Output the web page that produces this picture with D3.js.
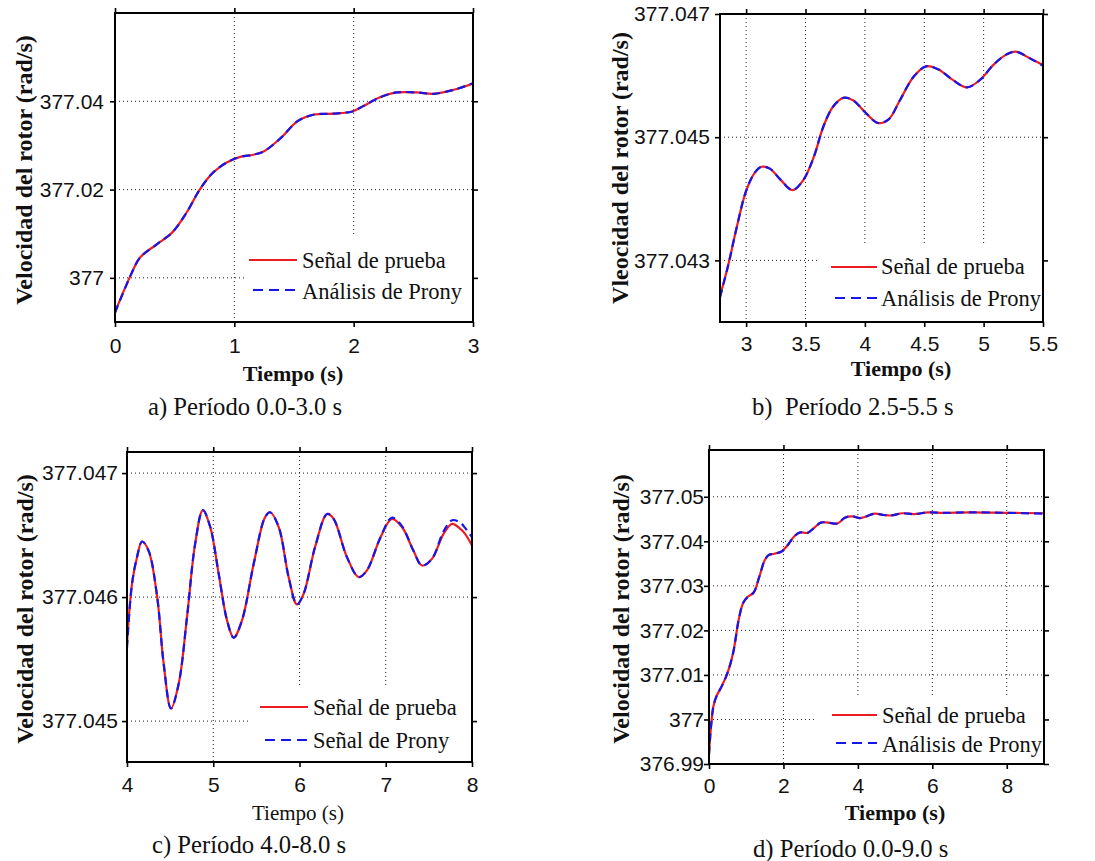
<!DOCTYPE html>
<html>
<head>
<meta charset="utf-8">
<script src="https://cdn.jsdelivr.net/npm/d3@7"></script>
<style>
  body { margin: 0; background: #fff; }
  svg { display: block; }
  .tick text { font-family: "Liberation Sans", Arial, sans-serif; font-size: 21px; fill: #111; }
  .cap { white-space: pre; }
</style>
</head>
<body>
<svg id="fig" width="1095" height="861"></svg>
<script>
// ---- Panel a: 0.0-3.0 s ----
const timeA  = [0, 0.13, 0.21, 0.35, 0.48, 0.60, 0.71, 0.82, 0.94, 1.05, 1.16, 1.25, 1.39, 1.53, 1.67, 1.83, 1.99, 2.08, 2.22, 2.36, 2.53, 2.67, 2.84, 3.0];
const testA  = [376.9922, 377.0005, 377.0046, 377.0076, 377.0103, 377.0148, 377.0200, 377.0238, 377.0262, 377.0274, 377.0279, 377.0287, 377.0317, 377.0355, 377.0370, 377.0372, 377.0377, 377.0389, 377.0409, 377.0420, 377.0420, 377.0417, 377.0426, 377.0440];
const pronyA = [376.9921, 377.0005, 377.0046, 377.0076, 377.0103, 377.0148, 377.0200, 377.0238, 377.0262, 377.0274, 377.0279, 377.0287, 377.0317, 377.0355, 377.0370, 377.0372, 377.0377, 377.0389, 377.0409, 377.0420, 377.0420, 377.0417, 377.0426, 377.0441];
const xTicksA = [0, 1, 2, 3];
const xLabelsA = ["0", "1", "2", "3"];
const yTicksA = [377, 377.02, 377.04];
const yLabelsA = ["377", "377.02", "377.04"];

// ---- Panel b: 2.5-5.5 s ----
const timeB  = [2.78, 2.85, 2.92, 3.0, 3.075, 3.13, 3.20, 3.285, 3.39, 3.48, 3.57, 3.65, 3.73, 3.82, 3.90, 4.0, 4.11, 4.20, 4.295, 4.41, 4.515, 4.62, 4.74, 4.86, 4.97, 5.08, 5.19, 5.27, 5.39, 5.50];
const testB  = [377.04242, 377.04293, 377.04353, 377.04413, 377.04443, 377.04452, 377.04449, 377.04432, 377.04414, 377.04430, 377.04468, 377.04517, 377.04549, 377.04564, 377.04560, 377.04541, 377.04523, 377.04529, 377.04560, 377.04598, 377.04615, 377.04610, 377.04593, 377.04581, 377.04593, 377.04617, 377.04634, 377.04639, 377.04628, 377.04617];
const pronyB = [377.04240, 377.04293, 377.04353, 377.04413, 377.04443, 377.04452, 377.04449, 377.04432, 377.04414, 377.04430, 377.04468, 377.04517, 377.04549, 377.04564, 377.04560, 377.04541, 377.04523, 377.04529, 377.04560, 377.04598, 377.04615, 377.04610, 377.04593, 377.04581, 377.04593, 377.04617, 377.04634, 377.04639, 377.04628, 377.04616];
const xTicksB = [3, 3.5, 4, 4.5, 5, 5.5];
const xLabelsB = ["3", "3.5", "4", "4.5", "5", "5.5"];
const yTicksB = [377.043, 377.045, 377.047];
const yLabelsB = ["377.043", "377.045", "377.047"];

// ---- Panel c: 4.0-8.0 s ----
const timeC  = [4.0, 4.058, 4.116, 4.174, 4.25, 4.35, 4.425, 4.51, 4.60, 4.696, 4.79, 4.88, 4.966, 5.063, 5.16, 5.237, 5.333, 5.469, 5.60, 5.66, 5.76, 5.874, 5.97, 6.048, 6.18, 6.32, 6.396, 6.55, 6.686, 6.78, 6.94, 7.07, 7.19, 7.32, 7.42, 7.536, 7.67, 7.77, 7.865, 7.92, 8.0];
const testC  = [377.045625, 377.046107, 377.046322, 377.046448, 377.046375, 377.046000, 377.045464, 377.045102, 377.045303, 377.045840, 377.046429, 377.046702, 377.046563, 377.046188, 377.045812, 377.045673, 377.045812, 377.046268, 377.046643, 377.046684, 377.046563, 377.046161, 377.045941, 377.046027, 377.046402, 377.046670, 377.046630, 377.046322, 377.046161, 377.046214, 377.046483, 377.046630, 377.046563, 377.046375, 377.046255, 377.046308, 377.046510, 377.046590, 377.046550, 377.046510, 377.046416];
const pronyC = [377.045590, 377.046107, 377.046322, 377.046448, 377.046375, 377.046000, 377.045464, 377.045102, 377.045303, 377.045840, 377.046429, 377.046702, 377.046563, 377.046188, 377.045812, 377.045673, 377.045812, 377.046268, 377.046643, 377.046684, 377.046563, 377.046161, 377.045941, 377.046027, 377.046402, 377.046670, 377.046630, 377.046322, 377.046161, 377.046214, 377.046483, 377.046640, 377.046570, 377.046375, 377.046255, 377.046308, 377.046530, 377.046620, 377.046600, 377.046558, 377.046483];
const xTicksC = [4, 5, 6, 7, 8];
const xLabelsC = ["4", "5", "6", "7", "8"];
const yTicksC = [377.045, 377.046, 377.047];
const yLabelsC = ["377.045", "377.046", "377.047"];

// ---- Panel d: 0.0-9.0 s ----
const timeD  = [0, 0.05, 0.12, 0.2, 0.35, 0.5, 0.65, 0.8, 0.92, 1.05, 1.2, 1.35, 1.5, 1.62, 1.75, 1.95, 2.1, 2.3, 2.45, 2.65, 2.85, 3.0, 3.2, 3.45, 3.65, 3.85, 4.05, 4.2, 4.45, 4.7, 4.9, 5.2, 5.5, 5.9, 6.3, 7.0, 8.0, 9.0];
const testD  = [376.9922, 376.9980, 377.0030, 377.0052, 377.0076, 377.0105, 377.0150, 377.0225, 377.0262, 377.0276, 377.0285, 377.0320, 377.0358, 377.0370, 377.0372, 377.0377, 377.0390, 377.0412, 377.0420, 377.0419, 377.0432, 377.0442, 377.0442, 377.0440, 377.0453, 377.0456, 377.0452, 377.0455, 377.0462, 377.0459, 377.0458, 377.0463, 377.0461, 377.0465, 377.0464, 377.0465, 377.0464, 377.0463];
const pronyD = [376.9921, 376.9980, 377.0030, 377.0052, 377.0076, 377.0105, 377.0150, 377.0225, 377.0262, 377.0276, 377.0285, 377.0320, 377.0358, 377.0370, 377.0372, 377.0377, 377.0390, 377.0412, 377.0420, 377.0419, 377.0432, 377.0442, 377.0442, 377.0440, 377.0453, 377.0456, 377.0452, 377.0455, 377.0462, 377.0459, 377.0458, 377.0463, 377.0461, 377.0465, 377.0464, 377.0465, 377.0464, 377.0462];
const xTicksD = [0, 2, 4, 6, 8];
const xLabelsD = ["0", "2", "4", "6", "8"];
const yTicksD = [376.99, 377, 377.01, 377.02, 377.03, 377.04, 377.05];
const yLabelsD = ["376.99", "377", "377.01", "377.02", "377.03", "377.04", "377.05"];

const RED = "#ec1c24";
const BLUE = "#1616e8";
const svg = d3.select("#fig");

const panels = [
  { id: "a", time: timeA, test: testA, prony: pronyA, xTicks: xTicksA, xLabels: xLabelsA, yTicks: yTicksA, yLabels: yLabelsA,
    box: [115, 473, 13, 322], xDomain: [0, 3], yDomain: [376.99, 377.06],
    yTitle: "Velocidad del rotor (rad/s)", yTitlePos: [32, 170],
    xTitle: "Tiempo (s)", xTitleBold: true, xTitlePos: [293, 381], xLabelBase: 353, yLabelGap: 11,
    caption: "a) Período 0.0-3.0 s", capPos: [148, 415],
    legend: { rect: [246, 237, 473, 322], red: [249, 297, 260], blue: [253, 297, 290], textX: 302, base1: 268, base2: 299, name2: "Análisis de Prony" } },
  { id: "b", time: timeB, test: testB, prony: pronyB, xTicks: xTicksB, xLabels: xLabelsB, yTicks: yTicksB, yLabels: yLabelsB,
    box: [720, 1043, 14, 322], xDomain: [2.78, 5.5], yDomain: [377.042, 377.047],
    yTitle: "Vleocidad del rotor (rad/s)", yTitlePos: [628, 168],
    xTitle: "Tiempo (s)", xTitleBold: true, xTitlePos: [901, 376], xLabelBase: 351, yLabelGap: 10,
    caption: "b)  Período 2.5-5.5 s", capPos: [752, 415],
    legend: { rect: [817, 243, 1043, 322], red: [831, 877, 267], blue: [835, 877, 298], textX: 881, base1: 274, base2: 306, name2: "Análisis de Prony" } },
  { id: "c", time: timeC, test: testC, prony: pronyC, xTicks: xTicksC, xLabels: xLabelsC, yTicks: yTicksC, yLabels: yLabelsC,
    box: [127, 472, 452, 762], xDomain: [4, 8], yDomain: [377.04467, 377.04717],
    yTitle: "Velocidad del rotor (rad/s)", yTitlePos: [33, 609],
    xTitle: "Tiempo (s)", xTitleBold: false, xTitlePos: [298, 820], xLabelBase: 792, yLabelGap: 9,
    caption: "c) Período 4.0-8.0 s", capPos: [152, 853],
    legend: { rect: [250, 685, 472, 762], red: [260, 308, 707], blue: [265, 308, 740], textX: 313, base1: 715, base2: 748, name2: "Señal de Prony" } },
  { id: "d", time: timeD, test: testD, prony: pronyD, xTicks: xTicksD, xLabels: xLabelsD, yTicks: yTicksD, yLabels: yLabelsD,
    box: [709, 1044, 450, 764], xDomain: [0, 9], yDomain: [376.99, 377.0605],
    yTitle: "Velocidad del rotor (rad/s)", yTitlePos: [629, 609],
    xTitle: "Tiempo (s)", xTitleBold: true, xTitlePos: [895, 820], xLabelBase: 793, yLabelGap: 5,
    caption: "d) Período 0.0-9.0 s", capPos: [753, 857],
    legend: { rect: [817, 697, 1044, 764], red: [832, 877, 715], blue: [836, 877, 743], textX: 882, base1: 723, base2: 752, name2: "Análisis de Prony" } }
];

function drawPanel(p) {
  const [L, R, T, B] = p.box;
  const x = d3.scaleLinear().domain(p.xDomain).range([L, R]);
  const y = d3.scaleLinear().domain(p.yDomain).range([B, T]);
  const g = svg.append("g").attr("class", "panel-" + p.id);

  // dotted grid, skipping lines that sit on the frame
  const grid = g.append("g").attr("stroke", "#222").attr("stroke-width", 1).attr("stroke-dasharray", "1,3");
  p.xTicks.filter(v => Math.abs(x(v) - L) > 2 && Math.abs(x(v) - R) > 2).forEach(v => {
    grid.append("line").attr("x1", x(v)).attr("x2", x(v)).attr("y1", T).attr("y2", B);
  });
  p.yTicks.filter(v => Math.abs(y(v) - T) > 2 && Math.abs(y(v) - B) > 2).forEach(v => {
    grid.append("line").attr("x1", L).attr("x2", R).attr("y1", y(v)).attr("y2", y(v));
  });

  // signals, clipped to the axes box
  const clipId = "clip-" + p.id;
  g.append("clipPath").attr("id", clipId).append("rect")
    .attr("x", L).attr("y", T).attr("width", R - L).attr("height", B - T);
  const line = d3.line().x(d => x(d[0])).y(d => y(d[1])).curve(d3.curveCatmullRom.alpha(0.5));
  const curves = g.append("g").attr("clip-path", `url(#${clipId})`).attr("fill", "none");
  curves.append("path").datum(p.time.map((t, i) => [t, p.test[i]]))
    .attr("d", line).attr("stroke", RED).attr("stroke-width", 2.2);
  curves.append("path").datum(p.time.map((t, i) => [t, p.prony[i]]))
    .attr("d", line).attr("stroke", BLUE).attr("stroke-width", 2.2).attr("stroke-dasharray", "8,5");

  // legend on a white patch
  const lg = p.legend;
  const leg = g.append("g");
  leg.append("rect").attr("x", lg.rect[0]).attr("y", lg.rect[1])
    .attr("width", lg.rect[2] - lg.rect[0]).attr("height", lg.rect[3] - lg.rect[1]).attr("fill", "#fff");
  leg.append("line").attr("x1", lg.red[0]).attr("x2", lg.red[1]).attr("y1", lg.red[2]).attr("y2", lg.red[2])
    .attr("stroke", RED).attr("stroke-width", 2.2);
  leg.append("line").attr("x1", lg.blue[0]).attr("x2", lg.blue[1]).attr("y1", lg.blue[2]).attr("y2", lg.blue[2])
    .attr("stroke", BLUE).attr("stroke-width", 2.2).attr("stroke-dasharray", "10,6");
  const legFont = { "font-family": "'Liberation Serif', 'Times New Roman', serif", "font-size": "22.5px", fill: "#111" };
  const t1 = leg.append("text").attr("x", lg.textX).attr("y", lg.base1).text("Señal de prueba");
  const t2 = leg.append("text").attr("x", lg.textX).attr("y", lg.base2).text(lg.name2);
  Object.entries(legFont).forEach(([k, v]) => { t1.attr(k, v); t2.attr(k, v); });

  // axes with outward ticks on all four sides
  const tickLen = 5;
  const bottom = g.append("g").attr("transform", `translate(0,${B})`)
    .call(d3.axisBottom(x).tickValues(p.xTicks).tickSize(tickLen)
      .tickPadding(p.xLabelBase - B - tickLen - 15).tickFormat((d, i) => p.xLabels[i]));
  const left = g.append("g").attr("transform", `translate(${L},0)`)
    .call(d3.axisLeft(y).tickValues(p.yTicks).tickSize(tickLen)
      .tickPadding(p.yLabelGap - tickLen).tickFormat((d, i) => p.yLabels[i]));
  const top = g.append("g").attr("transform", `translate(0,${T})`)
    .call(d3.axisTop(x).tickValues(p.xTicks).tickSize(tickLen).tickFormat(""));
  const right = g.append("g").attr("transform", `translate(${R},0)`)
    .call(d3.axisRight(y).tickValues(p.yTicks).tickSize(tickLen).tickFormat(""));
  [bottom, left, top, right].forEach(a => {
    a.select(".domain").remove();
    a.selectAll(".tick line").attr("stroke", "#000").attr("stroke-width", 1.6);
    a.attr("font-size", null).attr("font-family", null);
  });

  // axes frame
  g.append("rect").attr("x", L).attr("y", T).attr("width", R - L).attr("height", B - T)
    .attr("fill", "none").attr("stroke", "#000").attr("stroke-width", 2);

  // titles
  g.append("text")
    .attr("transform", `translate(${p.yTitlePos[0]},${p.yTitlePos[1]}) rotate(-90)`)
    .attr("text-anchor", "middle")
    .attr("font-family", "'Liberation Serif', 'Times New Roman', serif")
    .attr("font-weight", "bold").attr("font-size", "24px").attr("fill", "#111")
    .text(p.yTitle);
  g.append("text")
    .attr("x", p.xTitlePos[0]).attr("y", p.xTitlePos[1]).attr("text-anchor", "middle")
    .attr("font-family", "'Liberation Serif', 'Times New Roman', serif")
    .attr("font-weight", p.xTitleBold ? "bold" : "normal")
    .attr("font-size", p.xTitleBold ? "22px" : "21px").attr("fill", "#111")
    .text(p.xTitle);
  g.append("text").attr("class", "cap")
    .attr("x", p.capPos[0]).attr("y", p.capPos[1])
    .attr("font-family", "'Liberation Serif', 'Times New Roman', serif")
    .attr("font-size", "24.7px").attr("fill", "#111")
    .text(p.caption);
}

panels.forEach(drawPanel);
</script>
</body>
</html>
